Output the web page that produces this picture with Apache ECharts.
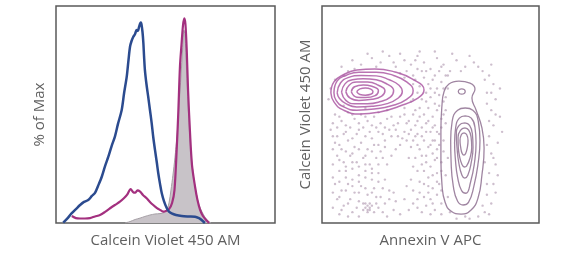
<!DOCTYPE html>
<html><head><meta charset="utf-8">
<script src="https://cdn.jsdelivr.net/npm/echarts@6/dist/echarts.min.js"></script>
<style>html,body{margin:0;padding:0;background:#fff}#c{width:579px;height:258px}</style>
</head><body><div id="c"></div>
<script>
// Histogram (left): [channel 0-100, % of Max]
const blueHist = [[3.3,0.2],[5.0,2.0],[7.2,4.8],[9.1,6.8],[11.0,8.8],[12.8,10.3],[14.7,11.2],[16.4,13.2],[17.8,14.7],[19.2,18.1],[20.9,22.6],[22.4,27.8],[23.9,32.4],[25.4,37.6],[26.9,42.2],[28.3,48.4],[30.0,55.2],[31.1,63.5],[32.3,71.5],[33.1,79.6],[33.8,86.1],[34.5,88.9],[35.3,91.0],[36.1,92.3],[36.8,94.3],[37.4,93.8],[37.9,95.7],[38.7,97.9],[39.0,97.2],[39.5,93.3],[39.9,87.8],[40.2,81.6],[40.6,74.7],[41.3,67.9],[42.1,61.7],[42.9,55.2],[43.7,48.7],[44.4,42.0],[45.2,35.7],[46.0,29.8],[46.7,24.3],[47.5,19.1],[48.3,14.5],[49.3,10.7],[50.6,7.2],[51.6,5.6],[52.8,4.7],[54.8,3.9],[57.4,3.4],[60.3,3.2],[63.5,3.1],[65.3,2.4],[66.5,1.5],[68.0,0]];
const magentaHist = [[7.2,3.4],[9.1,2.4],[11.0,2.2],[13.2,2.2],[15.5,2.4],[17.8,3.2],[20.1,3.9],[22.4,5.4],[24.7,7.2],[26.9,8.8],[29.2,10.4],[31.1,12.2],[32.4,13.7],[34.1,16.5],[35.2,15.1],[36.1,14.8],[37.2,15.9],[38.4,15.3],[39.7,13.7],[41.4,12.1],[42.9,10.3],[44.4,8.8],[46.1,7.3],[47.5,6.4],[48.9,5.6],[50.2,5.9],[51.6,6.8],[53.0,9.8],[54.1,16.1],[55.1,35.7],[55.8,52.8],[56.6,76.4],[57.3,87.0],[58.0,96.7],[58.6,100],[59.1,97.2],[59.7,84.5],[60.3,65.0],[61.2,44.0],[62.1,28.3],[63.5,17.7],[64.6,11.2],[65.8,6.4],[67.1,3.4],[68.8,1.2],[69.9,0]];
const grayHist = [[31.5,0],[33.8,0.7],[36.1,1.7],[38.4,2.4],[40.6,3.2],[42.9,3.9],[45.2,4.4],[47.5,4.6],[49.3,5.1],[50.7,6.8],[51.6,9.8],[52.5,16.1],[53.4,23.4],[54.3,31.8],[55.3,43.0],[56.2,57.6],[57.1,72.3],[57.8,84.5],[58.4,94.3],[58.9,91.8],[59.6,74.7],[60.3,57.6],[61.2,40.5],[62.1,29.3],[63.0,21.0],[64.2,13.7],[65.3,8.8],[66.7,5.4],[68.0,2.9],[69.4,1.0],[70.8,0]];

// Dot plot (right): [Annexin V APC, Calcein Violet 450 AM], 0-100
const dots = [[9,72],[14,75],[18,73],[23,76],[27,74],[31,77],[34,72],[38,75],[41,73],[44,77],[47,74],[50,71],[53,76],[56,73],[59,70],[62,75],[66,72],[70,74],[74,70],[78,73],[28,79],[36,78],[45,79],[52,79],[60,78],[21,78],[12,70],[39,70],[46,70],[68,77],
[43,66],[45,63],[47,67],[49,64],[51,66],[53,62],[55,65],[57,68],[44,60],[46,57],[48,60],[50,58],[52,55],[54,59],[56,56],[45,53],[47,50],[49,53],[51,49],[53,52],[55,48],[44,47],[46,44],[48,46],[50,42],[52,45],[54,41],[43,40],[47,38],[49,35],[51,38],[53,34],[45,34],[43,30],[48,31],[52,29],[50,26],[46,27],[44,24],[49,21],[53,23],[47,18],[51,16],[45,14],[50,11],[53,13],[48,8],[52,6],[46,5],[55,9],[54,18],[55,28],[56,38],[57,46],[57,52],
[77,68],[79,64],[76,60],[80,57],[78,52],[82,49],[79,45],[77,40],[81,37],[78,32],[80,27],[77,23],[79,18],[76,13],[78,9],[82,62],[83,42],[75,5],[72,3],[68,2],
[6,50],[9,47],[12,51],[15,48],[18,50],[21,47],[24,49],[27,46],[30,48],[33,45],[36,49],[39,46],[41,43],[38,42],[35,40],[31,43],[28,41],[25,44],[22,42],[19,44],[16,41],[13,44],[10,41],[7,44],[5,40],
[6,37],[9,34],[12,38],[15,35],[18,37],[21,34],[24,36],[27,33],[7,31],[10,28],[13,31],[16,28],[19,30],[22,27],[25,30],[8,24],[11,21],[14,25],[17,22],[20,24],[23,20],[26,23],[6,18],[9,15],[12,18],[15,14],[18,17],[21,13],[24,16],[27,12],[7,11],[10,8],[13,11],[16,7],[19,9],[22,6],[25,9],[28,5],[8,4],[12,3],[17,3],[30,3],[33,6],[30,27],[29,35],[32,31],[29,20],[31,15],[34,10],[36,4],[40,6],[38,11],[42,9],
[20,7],[21,8],[22,7],[21,6],[23,8],[20,9],[22,9],[19,6],[21,5],
[36,36],[39,38],[41,35],[34,34],[40,30],[42,26],[41,20],[42,15],[39,17],
[4,62],[3,57],[6,66],[10,68],[38,67],[42,64],[41,56],[38,53],[30,52],[20,53],[10,54],
[58,62],[57,58],[58,30],[57,22],[58,12],[59,5],[62,2],[66,3],
[5,46],[8,49],[11,45],[14,50],[17,46],[20,49],[23,45],[26,51],[29,44],[32,49],[35,46],[38,50],[40,47],[42,50],[43,45],[4,43],[7,40],[11,42],[14,39],[17,43],[20,40],[23,39],[26,42],[29,38],[32,40],[34,43],[37,39],[40,41],[42,38],
[5,34],[8,36],[11,33],[14,32],[17,34],[20,31],[23,33],[26,36],[28,30],[5,27],[8,29],[11,26],[14,28],[17,26],[20,27],[23,25],[26,27],[5,21],[8,19],[11,24],[14,20],[17,19],[20,21],[23,23],[26,19],[28,16],[5,14],[8,12],[11,15],[14,17],[17,14],[20,16],[23,14],[25,12],[5,7],[9,6],[12,9],[14,5],[17,10],[24,5],[26,7],[29,9],[31,11],[33,14],
[42,68],[44,71],[48,70],[52,68],[54,70],[56,62],[42,57],[43,52],[45,49],[48,56],[50,62],[52,60],[54,54],[56,50],[49,47],[51,44],[53,42],[55,44],[44,41],[46,40],[48,42],[50,36],[52,38],[54,36],[56,33],[44,36],[46,31],[48,28],[51,32],[53,30],[55,24],[47,24],[51,22],[45,19],[49,17],[53,19],[55,15],[44,11],[47,12],[49,14],[51,9],[55,4],[50,4],[44,7],
[75,66],[78,60],[76,55],[80,50],[77,47],[75,28],[76,36],[79,30],[76,18],[80,14],[74,8],[77,4],[81,22],
[15,71],[25,72],[33,74],[43,75],[55,72],[64,70],[72,72],[36,69],[58,68]];

// Contours, left population (live cells)
const liveContours = [
 [[4.1,59.9],[5.5,65.0],[9.7,68.2],[16.1,70.5],[24.4,71.0],[33.6,69.6],[41.5,66.4],[47.0,61.3],[44.2,57.6],[35.9,53.9],[26.7,51.2],[17.5,50.2],[9.7,52.1],[5.5,55.8],[4.1,59.9]],
 [[5.5,60],[7,65.5],[11,68],[17,69.5],[25,69.5],[33,68],[39,65],[42,61],[39,57],[32,54],[24,52.5],[16,52],[10,53.5],[6.5,56.5],[5.5,60]],
 [[7,60],[8.5,64.5],[12,67],[18,68],[25,67.8],[31,66],[35.5,63.5],[37,60.5],[35,57.5],[30,55],[23,53.8],[16,53.5],[11,55],[8,57.5],[7,60]],
 [[9,60.3],[10.5,64],[14,66],[19,66.5],[25,66],[30,64],[33,61],[31.5,58],[27,56],[21,55],[15,55],[11,56.5],[9,60.3]],
 [[11,60.5],[12.5,63.5],[16,65],[21,65],[26,63.5],[29,61],[27.5,58.5],[23,57],[17,56.5],[13,57.5],[11,60.5]],
 [[13.5,60.5],[15,62.8],[19,63.6],[23,63],[26,61],[24.5,58.7],[20,57.8],[16,58],[13.5,60.5]],
 [[16,60.5],[17.5,61.8],[20,62.2],[22.5,61.7],[23.5,60.5],[22.5,59.3],[20,58.9],[17.5,59.2],[16,60.5]]
];
// Contours, right population (apoptotic cells)
const apoContours = [
 [[63.1,65.4],[68.2,64.5],[70.5,61.8],[69.1,57.6],[71.0,52.1],[73.7,43.8],[74.7,34.6],[73.7,22.1],[71.9,11.5],[68.7,6.0],[64.1,4.1],[59.4,5.5],[56.7,9.7],[55.3,17.5],[54.8,29.0],[54.8,42.9],[55.3,54.4],[56.2,60.4],[58.5,64.1],[63.1,65.4]],
 [[62.8,60.6],[63.3,61.5],[64.4,61.8],[65.5,61.5],[66,60.6],[65.5,59.7],[64.4,59.4],[63.3,59.7],[62.8,60.6]],
 [[66,53],[69.5,52],[72,47],[72.8,38],[72,28],[70,17],[67.5,9.5],[65,8.3],[62.5,10],[60.5,17],[59.5,28],[59.3,38],[60,47],[62.5,52],[66,53]],
 [[66,49.4],[68.8,48.3],[70.5,44],[71,37],[70.3,28],[68.5,19],[66.3,13.7],[64.3,15],[62.5,21],[61.5,29],[61.1,37],[61.6,44],[63.3,48.3],[66,49.4]],
 [[65.8,46.1],[68,45],[69.3,41],[69.6,35],[68.8,28],[67.2,22],[65.8,20.7],[64.5,22],[63,28],[62.2,35],[61.9,41],[63.2,45],[65.8,46.1]],
 [[65.8,43.8],[67.6,42.8],[68.7,39.5],[69,35],[68.2,30],[66.6,26.2],[65.6,25.8],[64.5,27],[63.3,31],[62.8,35],[62.7,39.5],[63.9,42.8],[65.8,43.8]],
 [[65.4,41.5],[66.7,40.7],[67.3,38],[67,35],[66.2,32],[65.4,31.3],[64.6,32],[63.9,35],[63.6,38],[64.2,40.7],[65.4,41.5]]
];

const leftXName = 'Calcein Violet 450 AM';
const leftYName = '% of Max';
const rightXName = 'Annexin V APC';
const rightYName = 'Calcein Violet 450 AM';

const chart = echarts.init(document.getElementById('c'), null, {renderer:'canvas'});
const nameStyle = {color:'#606060', fontSize:15, fontFamily:'Open Sans'};
const hiddenAxis = {axisLine:{show:false}, axisTick:{show:false}, axisLabel:{show:false}, splitLine:{show:false}};
const series = [
 {type:'line', xAxisIndex:0, yAxisIndex:0, data:grayHist, symbol:'none', smooth:0.3,
  lineStyle:{color:'#a6a0a6', width:1}, areaStyle:{color:'#c8c3c8', opacity:1}, z:1},
 {type:'line', xAxisIndex:0, yAxisIndex:0, data:magentaHist, symbol:'none', smooth:0.3,
  lineStyle:{color:'#a3307f', width:2.2}, z:2},
 {type:'line', xAxisIndex:0, yAxisIndex:0, data:blueHist, symbol:'none', smooth:0.3,
  lineStyle:{color:'#2b4b8f', width:2.5}, z:3},
 {type:'scatter', xAxisIndex:1, yAxisIndex:1, data:dots, symbolSize:2.4,
  itemStyle:{color:'rgba(150,120,150,0.6)'}, z:1}
];
liveContours.forEach(c => series.push({type:'line', xAxisIndex:1, yAxisIndex:1, data:c, symbol:'none', smooth:0.5,
  lineStyle:{color:'#ad5aa5', width:1.5, opacity:0.85}, z:2}));
apoContours.forEach(c => series.push({type:'line', xAxisIndex:1, yAxisIndex:1, data:c, symbol:'none', smooth:0.5,
  lineStyle:{color:'#8e7090', width:1.3, opacity:0.85}, z:2}));

chart.setOption({
 animation:false,
 grid:[
  {left:56, top:6, width:219, height:217, show:true, borderColor:'#5a5a5a', borderWidth:1.5, backgroundColor:'transparent'},
  {left:322, top:6, width:217, height:217, show:true, borderColor:'#5a5a5a', borderWidth:1.5, backgroundColor:'transparent'}
 ],
 xAxis:[
  Object.assign({type:'value', gridIndex:0, min:0, max:100, name:leftXName, nameLocation:'middle', nameGap:10, nameTextStyle:nameStyle}, hiddenAxis),
  Object.assign({type:'value', gridIndex:1, min:0, max:100, name:rightXName, nameLocation:'middle', nameGap:10, nameTextStyle:nameStyle}, hiddenAxis)
 ],
 yAxis:[
  Object.assign({type:'value', gridIndex:0, min:0, max:106, name:leftYName, nameLocation:'middle', nameGap:9, nameTextStyle:nameStyle}, hiddenAxis),
  Object.assign({type:'value', gridIndex:1, min:0, max:100, name:rightYName, nameLocation:'middle', nameGap:9, nameTextStyle:nameStyle}, hiddenAxis)
 ],
 series:series
});
</script></body></html>
